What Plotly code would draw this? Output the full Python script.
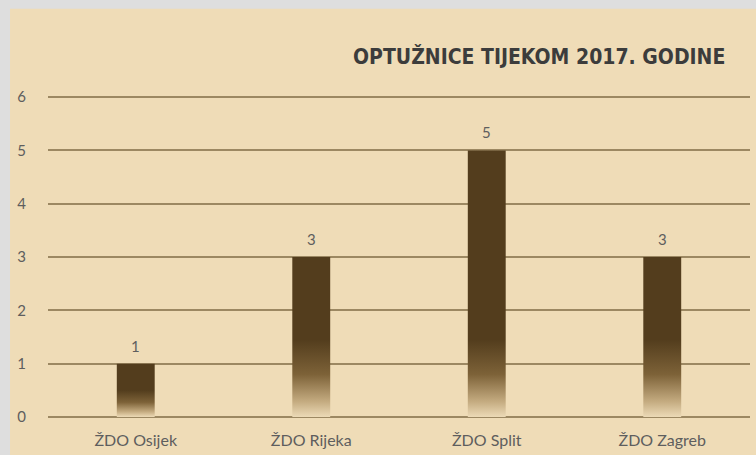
import plotly.graph_objects as go

categories = ["ŽDO Osijek", "ŽDO Rijeka", "ŽDO Split", "ŽDO Zagreb"]
values = [1, 3, 5, 3]
y_ticks = [0, 1, 2, 3, 4, 5, 6]
title_text = "OPTUŽNICE TIJEKOM 2017. GODINE"

BG = "#efdcb7"
DARK = "#533d1d"
GRID = "#9c8862"
LABEL = "#5e5e5e"
HALF_W = 0.108
FONT = "Lato, Open Sans, sans-serif"

fig = go.Figure()

for i, (cat, v) in enumerate(zip(categories, values)):
    fade = min(0.5 * v, 1.45)
    fig.add_trace(go.Scatter(
        x=[i - HALF_W, i - HALF_W, i + HALF_W, i + HALF_W, i - HALF_W],
        y=[0, v, v, 0, 0],
        mode="lines",
        fill="toself",
        line=dict(width=0),
        fillgradient=dict(
            type="vertical",
            start=0,
            stop=fade,
            colorscale=[[0, "rgba(236,218,182,1)"], [0.2, "#c4ab80"],
                        [0.55, "#7d6238"], [1, DARK]],
        ),
        hoverinfo="skip",
        showlegend=False,
        name=cat,
    ))

annotations = [
    dict(x=i, y=v, text=str(v), showarrow=False, yshift=18,
         font=dict(family=FONT, size=15, color=LABEL))
    for i, v in enumerate(values)
]
annotations.append(dict(
    x=0.967, y=1.122, xref="paper", yref="paper", xanchor="right", yanchor="middle",
    text="<b>" + title_text + "</b>", showarrow=False,
    font=dict(family="Liberation Sans Narrow, DejaVu Sans Condensed, sans-serif",
              size=21, color="#3c3c3c"),
))

fig.update_layout(
    width=756, height=455,
    margin=dict(l=48, r=6, t=96, b=38),
    paper_bgcolor="#dedede",
    plot_bgcolor="rgba(0,0,0,0)",
    annotations=annotations,
    shapes=[dict(type="rect", xref="paper", yref="paper",
                 x0=-0.0541, x1=1.01, y0=-0.12, y1=1.2719,
                 fillcolor=BG, line=dict(width=0), layer="below")],
    xaxis=dict(
        range=[-0.5, 3.5], tickvals=list(range(len(categories))), ticktext=categories,
        showgrid=False, zeroline=False, showline=False, ticks="",
        tickfont=dict(family=FONT, size=16, color=LABEL),
        ticklabelstandoff=12, fixedrange=True, automargin=False,
    ),
    yaxis=dict(
        range=[0, 6.02], tickvals=y_ticks, showgrid=True, gridcolor=GRID, gridwidth=1.6,
        zeroline=True, zerolinecolor=GRID, zerolinewidth=1.6, showline=False, ticks="",
        tickfont=dict(family=FONT, size=15, color=LABEL),
        ticklabelstandoff=21, fixedrange=True, automargin=False,
    ),
)

fig.write_html("out.html", config={"displayModeBar": False},
               post_script="document.body.style.margin='0';")
